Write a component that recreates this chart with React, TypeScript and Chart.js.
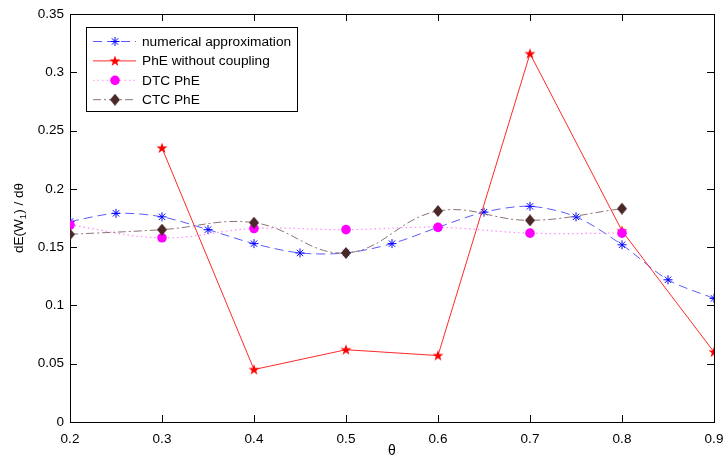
import React, { useEffect, useRef } from "react";
import { Chart, registerables } from "chart.js";

Chart.register(...registerables);

// ---------- data ----------
const thetaFine = [0.2, 0.25, 0.3, 0.35, 0.4, 0.45, 0.5, 0.55, 0.6, 0.65, 0.7, 0.75, 0.8, 0.85, 0.9];
const numericalApprox = [0.172, 0.179, 0.176, 0.165, 0.153, 0.145, 0.145, 0.153, 0.167, 0.18, 0.185, 0.176, 0.152, 0.122, 0.106];

const thetaPhE = [0.3, 0.4, 0.5, 0.6, 0.7, 0.8, 0.9];
const phEWithoutCoupling = [0.235, 0.045, 0.062, 0.057, 0.316, 0.164, 0.06];

const thetaTc = [0.2, 0.3, 0.4, 0.5, 0.6, 0.7, 0.8];
const dtcPhE = [0.169, 0.158, 0.166, 0.165, 0.167, 0.162, 0.162];
const ctcPhE = [0.161, 0.165, 0.171, 0.145, 0.181, 0.173, 0.183];

const seriesLabels = ["numerical approximation", "PhE without coupling", "DTC PhE", "CTC PhE"];
const xTickValues = [0.2, 0.3, 0.4, 0.5, 0.6, 0.7, 0.8, 0.9];
const yTickValues = [0, 0.05, 0.1, 0.15, 0.2, 0.25, 0.3, 0.35];
const xTitle = "θ";
const yTitleParts = ["dE(W", "1", ") / dθ"];

const FONT = "'Liberation Sans', Arial, Helvetica, sans-serif";

function makeStar(color: string): HTMLCanvasElement {
  const c = document.createElement("canvas");
  c.width = 12;
  c.height = 12;
  const g = c.getContext("2d")!;
  g.fillStyle = color;
  g.beginPath();
  const cx = 6, cy = 6.3, R = 5.8, r = 2.3;
  for (let i = 0; i < 10; i++) {
    const a = -Math.PI / 2 + (i * Math.PI) / 5;
    const rad = i % 2 === 0 ? R : r;
    const x = cx + rad * Math.cos(a);
    const y = cy + rad * Math.sin(a);
    if (i === 0) g.moveTo(x, y);
    else g.lineTo(x, y);
  }
  g.closePath();
  g.fill();
  return c;
}

function makeDiamond(color: string): HTMLCanvasElement {
  const c = document.createElement("canvas");
  c.width = 10;
  c.height = 12;
  const g = c.getContext("2d")!;
  g.fillStyle = color;
  g.beginPath();
  g.moveTo(5, 0);
  g.lineTo(10, 6);
  g.lineTo(5, 12);
  g.lineTo(0, 6);
  g.closePath();
  g.fill();
  return c;
}

const fmt = (v: number) => String(Number(v.toFixed(2)));

export default function App() {
  const ref = useRef<HTMLCanvasElement | null>(null);

  useEffect(() => {
    const canvas = ref.current;
    if (!canvas) return;

    const starImg = makeStar("#ff0000");
    const diamondImg = makeDiamond("#4a2828");

    const styles = [
      { line: "#5b5bff", dash: [9, 5], marker: "asterisk", mcolor: "#0000ff" },
      { line: "#ff2a2a", dash: [] as number[], marker: "star", mcolor: "#ff0000" },
      { line: "#ff8cff", dash: [1.5, 3], marker: "circle", mcolor: "#ff00ff" },
      { line: "#8c7373", dash: [8, 3, 2, 3], marker: "diamond", mcolor: "#4a2828" },
    ];

    const framePlugin = {
      id: "frame",
      beforeDatasetsDraw(chart: any) {
        const { ctx, chartArea: a, scales } = chart;
        ctx.save();
        ctx.strokeStyle = "#000";
        ctx.lineWidth = 1;
        ctx.strokeRect(Math.round(a.left) + 0.5, Math.round(a.top) + 0.5, Math.round(a.right - a.left), Math.round(a.bottom - a.top));
        ctx.beginPath();
        const tl = 7;
        xTickValues.forEach((v) => {
          const x = Math.round(scales.x.getPixelForValue(v)) + 0.5;
          ctx.moveTo(x, a.bottom);
          ctx.lineTo(x, a.bottom - tl);
          ctx.moveTo(x, a.top);
          ctx.lineTo(x, a.top + tl);
        });
        yTickValues.forEach((v) => {
          const y = Math.round(scales.y.getPixelForValue(v)) + 0.5;
          ctx.moveTo(a.left, y);
          ctx.lineTo(a.left + tl, y);
          ctx.moveTo(a.right, y);
          ctx.lineTo(a.right - tl, y);
        });
        ctx.stroke();

        // axis titles
        ctx.fillStyle = "#000";
        ctx.font = `14px ${FONT}`;
        ctx.textAlign = "center";
        ctx.textBaseline = "middle";
        ctx.fillText(xTitle, (a.left + a.right) / 2, 451);

        ctx.translate(18, (a.top + a.bottom) / 2);
        ctx.rotate(-Math.PI / 2);
        ctx.textAlign = "left";
        ctx.textBaseline = "alphabetic";
        const f1 = `13.5px ${FONT}`;
        const f2 = `9.5px ${FONT}`;
        ctx.font = f1;
        const w0 = ctx.measureText(yTitleParts[0]).width;
        const w2 = ctx.measureText(yTitleParts[2]).width;
        ctx.font = f2;
        const w1 = ctx.measureText(yTitleParts[1]).width;
        const total = w0 + w1 + w2;
        let x = -total / 2;
        ctx.font = f1;
        ctx.fillText(yTitleParts[0], x, 5);
        x += w0;
        ctx.font = f2;
        ctx.fillText(yTitleParts[1], x, 8);
        x += w1;
        ctx.font = f1;
        ctx.fillText(yTitleParts[2], x, 5);
        ctx.restore();
      },
    };

    const drawMarker = (ctx: CanvasRenderingContext2D, kind: string, color: string, x: number, y: number) => {
      if (kind === "asterisk") {
        ctx.strokeStyle = color;
        ctx.lineWidth = 1;
        ctx.setLineDash([]);
        const r = 4.5;
        ctx.beginPath();
        for (let i = 0; i < 4; i++) {
          const ang = (i * Math.PI) / 4;
          ctx.moveTo(x - r * Math.cos(ang), y - r * Math.sin(ang));
          ctx.lineTo(x + r * Math.cos(ang), y + r * Math.sin(ang));
        }
        ctx.stroke();
      } else if (kind === "star") {
        ctx.drawImage(starImg, x - 6, y - 6);
      } else if (kind === "circle") {
        ctx.fillStyle = color;
        ctx.beginPath();
        ctx.arc(x, y, 4.8, 0, Math.PI * 2);
        ctx.fill();
      } else {
        ctx.drawImage(diamondImg, x - 5, y - 6);
      }
    };

    const legendPlugin = {
      id: "matlabLegend",
      afterDraw(chart: any) {
        const ctx = chart.ctx as CanvasRenderingContext2D;
        ctx.save();
        const bx = 86, by = 27, bw = 211, bh = 84;
        ctx.fillStyle = "#fff";
        ctx.fillRect(bx, by, bw, bh);
        ctx.strokeStyle = "#000";
        ctx.lineWidth = 1;
        ctx.strokeRect(bx + 0.5, by + 0.5, bw, bh);
        seriesLabels.forEach((label, i) => {
          const y = 41.5 + i * 19.4;
          const s = styles[i];
          ctx.strokeStyle = s.line;
          ctx.lineWidth = 1;
          ctx.setLineDash(s.dash);
          ctx.beginPath();
          ctx.moveTo(93, y);
          ctx.lineTo(136, y);
          ctx.stroke();
          ctx.setLineDash([]);
          drawMarker(ctx, s.marker, s.mcolor, 115, y);
          ctx.fillStyle = "#000";
          ctx.font = `13.7px ${FONT}`;
          ctx.textAlign = "left";
          ctx.textBaseline = "middle";
          ctx.fillText(label, 142, y + 0.5);
        });
        ctx.restore();
      },
    };

    const pts = (xs: number[], ys: number[]) => xs.map((x, i) => ({ x, y: ys[i] }));

    const chart = new Chart(canvas, {
      type: "line",
      data: {
        datasets: [
          {
            label: seriesLabels[0],
            data: pts(thetaFine, numericalApprox),
            borderColor: styles[0].line,
            borderWidth: 1,
            borderDash: styles[0].dash,
            pointStyle: "star",
            pointRadius: 4.5,
            pointBorderColor: styles[0].mcolor,
            pointBackgroundColor: styles[0].mcolor,
            pointBorderWidth: 1,
            tension: 0.3,
            order: 4,
          },
          {
            label: seriesLabels[1],
            data: pts(thetaPhE, phEWithoutCoupling),
            borderColor: styles[1].line,
            borderWidth: 1,
            pointStyle: starImg,
            pointRadius: 6,
            tension: 0,
            order: 3,
          },
          {
            label: seriesLabels[2],
            data: pts(thetaTc, dtcPhE),
            borderColor: styles[2].line,
            borderWidth: 1.2,
            borderDash: styles[2].dash,
            pointStyle: "circle",
            pointRadius: 4.8,
            pointBorderWidth: 0,
            pointBackgroundColor: styles[2].mcolor,
            pointBorderColor: styles[2].mcolor,
            tension: 0.4,
            order: 2,
          },
          {
            label: seriesLabels[3],
            data: pts(thetaTc, ctcPhE),
            borderColor: styles[3].line,
            borderWidth: 1,
            borderDash: styles[3].dash,
            pointStyle: diamondImg,
            pointRadius: 6,
            tension: 0.4,
            order: 1,
          },
        ] as any,
      },
      options: {
        animation: false,
        responsive: false,
        devicePixelRatio: 1,
        layout: { padding: { left: 0, top: 14, right: 11, bottom: 0 } },
        plugins: { legend: { display: false }, tooltip: { enabled: false } },
        scales: {
          x: {
            type: "linear",
            min: 0.2,
            max: 0.9,
            afterBuildTicks: (scale: any) => {
              scale.ticks = xTickValues.map((v) => ({ value: v }));
            },
            afterFit: (scale: any) => {
              scale.height = 36;
              scale.paddingLeft = 0;
              scale.paddingRight = 0;
            },
            grid: { display: false, drawTicks: false, tickLength: 0 },
            border: { display: false },
            ticks: {
              color: "#000",
              font: { family: FONT, size: 13.5 },
              padding: 9,
              maxRotation: 0,
              autoSkip: false,
              callback: (v: any) => fmt(Number(v)),
            },
          },
          y: {
            type: "linear",
            min: 0,
            max: 0.35,
            afterBuildTicks: (scale: any) => {
              scale.ticks = yTickValues.map((v) => ({ value: v }));
            },
            afterFit: (scale: any) => {
              scale.width = 70;
              scale.paddingTop = 0;
              scale.paddingBottom = 0;
            },
            grid: { display: false, drawTicks: false, tickLength: 0 },
            border: { display: false },
            ticks: {
              color: "#000",
              font: { family: FONT, size: 13.5 },
              padding: 6,
              autoSkip: false,
              callback: (v: any) => fmt(Number(v)),
            },
          },
        },
      } as any,
      plugins: [framePlugin, legendPlugin],
    });

    return () => chart.destroy();
  }, []);

  return (
    <div style={{ position: "fixed", left: 0, top: 0, width: 725, height: 458, background: "#fff" }}>
      <canvas ref={ref} width={725} height={458} style={{ width: 725, height: 458, display: "block" }} />
    </div>
  );
}
